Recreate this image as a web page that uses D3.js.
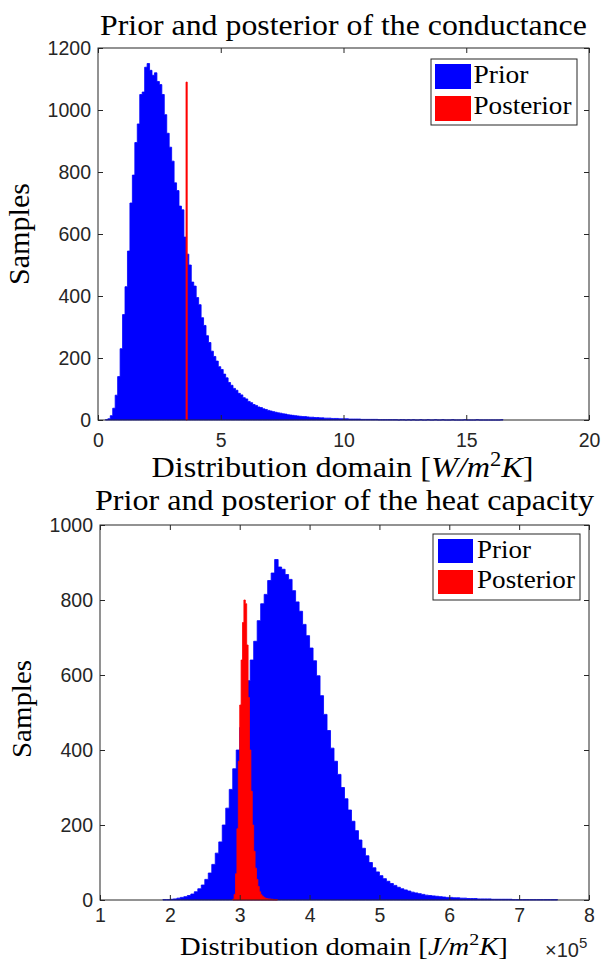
<!DOCTYPE html>
<html><head><meta charset="utf-8">
<script src="https://cdn.jsdelivr.net/npm/d3@7"></script>
<style>body{margin:0;background:#fff} svg{display:block}</style>
</head><body>
<svg id="c" width="601" height="963"></svg>
<script>
// ---------------- DATA ----------------
// Conductance histogram (prior), bins of width 0.1 starting at 0.3
const condPriorStart = 0.3, condPriorWidth = 0.1;
const condPriorCounts = [
  1,4,14,38,80,140,230,340,430,545,
  700,790,895,955,1050,1058,1138,1150,1128,1112,
  1120,1092,1082,1050,985,925,880,835,765,740,
  690,678,590,535,500,445,432,395,372,330,
  305,272,250,222,205,190,172,163,148,136,
  121,112,102,96,86,81,72,68,60,56,
  50,47,42,40,36,34,31,29,27,25,
  23,22,20,19,17,16,15,
  14,13,12,11,11,10,9,9,8,8,
  7,7,6,6,6,5,5,5,4,4,
  4,4,3,3,3,3,3,2,2,2,
  2,2,2,2,1,1,1,1,1,1,
  1,1,0,1,1,0,1,0,1,0,
  0,1,0,0,1,0,0,1,0,0,
  1,0,0,0,1,0,0,0,0,1,
  0,0,0,0,1,0,0,0,0,0,
  0,0,0,0,1
];
// Conductance posterior: one narrow spike
const condPostStart = 3.585, condPostWidth = 0.05;
const condPostCounts = [1090];

// Heat capacity histogram (prior), x in units of 1e5, bins of width 0.05 starting at 1.9
const capPriorStart = 1.9, capPriorWidth = 0.05;
const capPriorCounts = [
  1,1,2,3,5,7,9,12,16,22,
  30,40,55,72,95,125,155,200,245,295,
  350,400,460,520,585,640,690,745,790,815,
  852,872,908,888,882,868,855,825,795,770,
  735,705,672,638,598,545,495,452,405,370,
  335,300,270,240,210,185,160,138,118,100,
  86,75,65,57,50,44,39,34,30,27,
  24,21,19,17,15,13,12,11,10,9,
  8,7,7,6,6,5,5,4,4,4,
  3,3,3,3,2,
  2,2,2,2,2,1,1,1,1,1,1,1,1,1,1,1,1,1
];
// Heat capacity posterior, bins of width 0.02 starting at 2.90
const capPostStart = 2.90, capPostWidth = 0.02;
const capPostCounts = [
  2,15,70,190,370,520,640,740,800,790,
  680,540,400,290,200,130,85,55,36,22,
  14,10,7,5,4,3,3,2,2,1,1,1
];

const condXTicks = [0,5,10,15,20];
const condYTicks = [0,200,400,600,800,1000,1200];
const capXTicks = [1,2,3,4,5,6,7,8];
const capYTicks = [0,200,400,600,800,1000];
const legendLabels = ["Prior","Posterior"];
const seriesColors = ["#0000ff","#ff0000"];

// ---------------- DRAW ----------------
const svg = d3.select("#c");
const AX = "#262626";
const SERIF = "'Liberation Serif','Times New Roman',serif";
const SANS = "'Liberation Sans',Arial,Helvetica,sans-serif";

function hist(g, x, y, start, width, counts, color) {
  const pts = [];
  counts.forEach((c, i) => {
    const a = start + i * width, b = a + width;
    pts.push([a, c], [b, c]);
  });
  const area = d3.area().x(d => x(d[0])).y0(y(0)).y1(d => y(d[1]));
  g.append("path").attr("d", area(pts))
    .attr("fill", color).attr("stroke", color).attr("stroke-width", 0.8);
}

function fitWidth(node, x0, target) {
  const w = node.getBBox().width;
  const s = target / w;
  node.setAttribute("transform", `translate(${x0},0) scale(${s},1) translate(${-x0},0)`);
}

function panel(o) {
  const x = d3.scaleLinear().domain(o.xDomain).range([o.left, o.right]);
  const y = d3.scaleLinear().domain(o.yDomain).range([o.bottom, o.top]);
  const g = svg.append("g");

  hist(g, x, y, o.prior.start, o.prior.width, o.prior.counts, seriesColors[0]);
  hist(g, x, y, o.post.start, o.post.width, o.post.counts, seriesColors[1]);

  const styleAxis = sel => {
    sel.select(".domain").remove();
    sel.selectAll("line").attr("stroke", AX).attr("stroke-width", 1);
    sel.selectAll("text").attr("fill", AX).style("font-family", SANS).style("font-size", "19.5px");
  };
  g.append("g").attr("transform", `translate(0,${o.bottom})`)
    .call(d3.axisBottom(x).tickValues(o.xTicks).tickFormat(d3.format("d")).tickSizeInner(-5).tickSizeOuter(0).tickPadding(o.xPad))
    .call(styleAxis);
  g.append("g").attr("transform", `translate(0,${o.top})`)
    .call(d3.axisTop(x).tickValues(o.xTicks).tickFormat("").tickSizeInner(-5).tickSizeOuter(0))
    .call(styleAxis);
  g.append("g").attr("transform", `translate(${o.left},0)`)
    .call(d3.axisLeft(y).tickValues(o.yTicks).tickFormat(d3.format("d")).tickSizeInner(-5).tickSizeOuter(0).tickPadding(7))
    .call(styleAxis);
  g.append("g").attr("transform", `translate(${o.right},0)`)
    .call(d3.axisRight(y).tickValues(o.yTicks).tickFormat("").tickSizeInner(-5).tickSizeOuter(0))
    .call(styleAxis);

  g.append("rect").attr("x", o.left).attr("y", o.top)
    .attr("width", o.right - o.left).attr("height", o.bottom - o.top)
    .attr("fill", "none").attr("stroke", AX).attr("stroke-width", 1);

  const t = g.append("text").attr("x", o.title.x).attr("y", o.title.y)
    .style("font-family", SERIF).style("font-size", o.title.size + "px").attr("fill", "#000")
    .text(o.title.text);
  fitWidth(t.node(), o.title.x, o.title.w);

  const xl = g.append("text").attr("x", o.xlab.x).attr("y", o.xlab.y)
    .style("font-family", SERIF).style("font-size", o.xlab.size + "px").attr("fill", "#000");
  xl.append("tspan").text("Distribution domain [");
  xl.append("tspan").style("font-style", "italic").text(o.xlab.sym + "/m");
  xl.append("tspan").attr("dy", -o.xlab.size * 0.4).style("font-size", (o.xlab.size * 0.7) + "px").text("2");
  xl.append("tspan").attr("dy", o.xlab.size * 0.4).style("font-style", "italic").text("K");
  xl.append("tspan").text("]");
  fitWidth(xl.node(), o.xlab.x, o.xlab.w);

  g.append("text").attr("transform", `translate(${o.ylab.x},${o.ylab.cy}) rotate(-90)`)
    .attr("text-anchor", "middle")
    .style("font-family", SERIF).style("font-size", o.ylab.size + "px").attr("fill", "#000")
    .attr("textLength", o.ylab.w).attr("lengthAdjust", "spacingAndGlyphs")
    .text("Samples");

  const L = o.legend;
  g.append("rect").attr("x", L.x).attr("y", L.y).attr("width", L.w).attr("height", L.h)
    .attr("fill", "#fff").attr("stroke", AX).attr("stroke-width", 1);
  legendLabels.forEach((lab, i) => {
    g.append("rect").attr("x", L.sx).attr("y", L.sy[i]).attr("width", L.sw).attr("height", L.sh)
      .attr("fill", seriesColors[i]);
    const tt = g.append("text").attr("x", L.tx).attr("y", L.ty[i])
      .style("font-family", SERIF).style("font-size", L.size + "px").attr("fill", "#000").text(lab);
    fitWidth(tt.node(), L.tx, L.tw[i]);
  });
  return {x, y, g};
}

panel({
  xDomain: [0, 20], yDomain: [0, 1200],
  left: 98, right: 589, top: 48, bottom: 420,
  xTicks: condXTicks, yTicks: condYTicks, xPad: 13,
  prior: {start: condPriorStart, width: condPriorWidth, counts: condPriorCounts},
  post: {start: condPostStart, width: condPostWidth, counts: condPostCounts},
  title: {text: "Prior and posterior of the conductance", x: 100, y: 35, size: 29, w: 487},
  xlab: {sym: "W", x: 151.5, y: 477, size: 28.7, w: 382},
  ylab: {x: 29, cy: 234, size: 28.7, w: 102},
  legend: {x: 431, y: 59, w: 146, h: 66, sx: 435, sy: [64, 96], sw: 36, sh: 25,
           tx: 473.5, ty: [83.5, 114], size: 24.7, tw: [55, 98]}
});

panel({
  xDomain: [1, 8], yDomain: [0, 1000],
  left: 100, right: 589, top: 525, bottom: 900,
  xTicks: capXTicks, yTicks: capYTicks, xPad: 8,
  prior: {start: capPriorStart, width: capPriorWidth, counts: capPriorCounts},
  post: {start: capPostStart, width: capPostWidth, counts: capPostCounts},
  title: {text: "Prior and posterior of the heat capacity", x: 95, y: 510, size: 28.7, w: 500},
  xlab: {sym: "J", x: 180, y: 955, size: 25, w: 328},
  ylab: {x: 31, cy: 709, size: 27.5, w: 98},
  legend: {x: 433, y: 534, w: 147, h: 66, sx: 438, sy: [539, 570], sw: 35, sh: 24,
           tx: 477, ty: [558, 588], size: 24.7, tw: [54, 98]}
});

const ex = svg.append("text").attr("x", 545).attr("y", 957)
  .style("font-family", SANS).style("font-size", "20px").attr("fill", AX);
ex.append("tspan").text("\u00d710");
ex.append("tspan").attr("dy", -9).style("font-size", "15px").text("5");
</script>
</body></html>
